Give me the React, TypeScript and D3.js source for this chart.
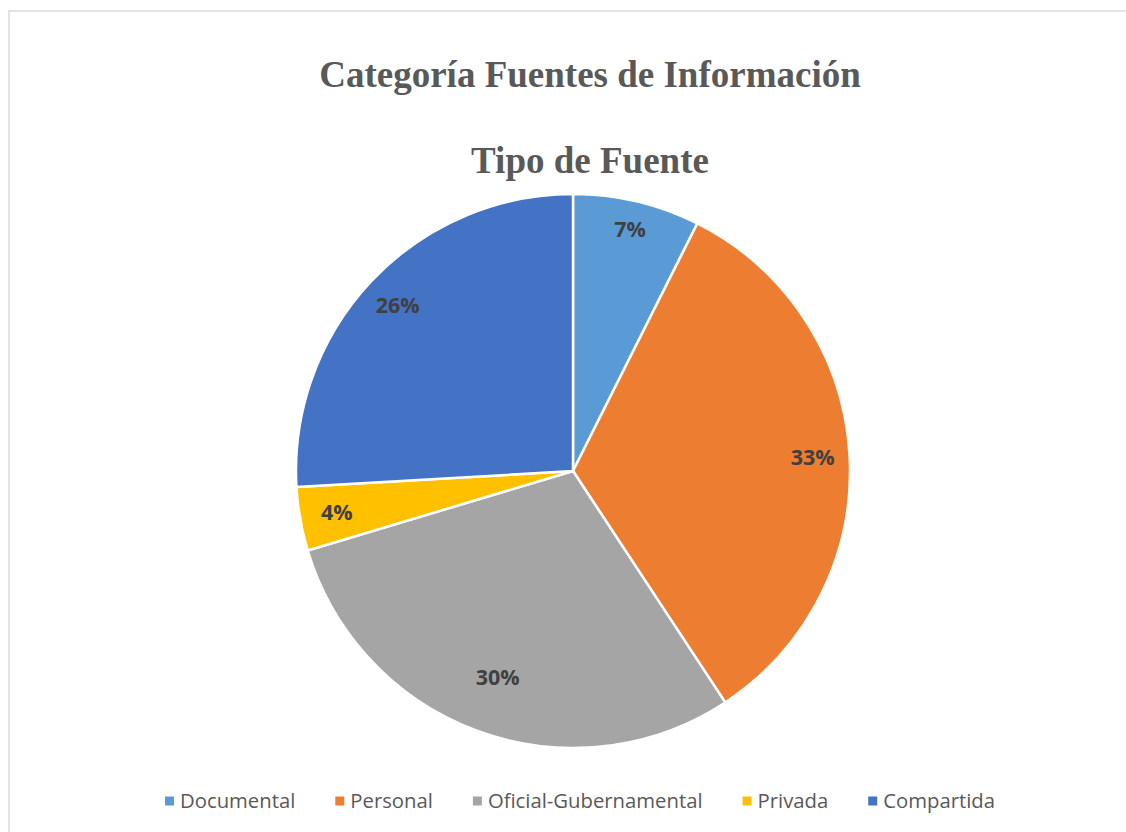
import React from "react";
import * as d3 from "d3";

const categories = ["Documental", "Personal", "Oficial-Gubernamental", "Privada", "Compartida"];
const counts = [2, 9, 8, 1, 7];
const colors = ["#5B9BD5", "#ED7D31", "#A5A5A5", "#FFC000", "#4472C4"];
const titleLines = ["Categoría Fuentes de Información", "Tipo de Fuente"];
// label distance from centre, as a share of the radius (best-fit placement)
const labelRadius = [0.895, 0.867, 0.795, 0.866, 0.87];

const W = 1126;
const H = 832;

function measure(text: string, font: string): number {
  if (typeof document === "undefined") return text.length * 9;
  const c = document.createElement("canvas");
  const ctx = c.getContext("2d");
  if (!ctx) return text.length * 9;
  ctx.font = font;
  return ctx.measureText(text).width;
}

export default function App() {
  const cx = 573;
  const cy = 471;
  const R = 277;
  const total = d3.sum(counts);
  const pie = d3.pie<number>().sort(null).value((d) => d)(counts);
  const arc = d3.arc<d3.PieArcDatum<number>>().innerRadius(0).outerRadius(R);
  const pct = d3.format(".0%");

  const legendSize = 20.3;
  const legendFont = `${legendSize}px 'Open Sans'`;
  const sq = 9;
  const sqGap = 6;
  const itemGap = 40;
  const widths = categories.map((c) => measure(c, legendFont));
  const itemW = widths.map((w) => sq + sqGap + w);
  const totalW = d3.sum(itemW) + itemGap * (categories.length - 1);
  let x0 = 580 - totalW / 2;
  const legendX: number[] = [];
  itemW.forEach((w) => {
    legendX.push(x0);
    x0 += w + itemGap;
  });
  const legendY = 801;

  return (
    <svg width={W} height={H} style={{ position: "absolute", left: 0, top: 0 }}>
      <rect x={0} y={0} width={W} height={H} fill="#ffffff" />
      <rect x={9} y={11} width={W + 20} height={H + 20} fill="#ffffff" stroke="#D9D9D9" strokeWidth={1.5} />
      {titleLines.map((t, i) => (
        <text
          key={t}
          x={590}
          y={87 + i * 86}
          textAnchor="middle"
          fontFamily="'Liberation Serif', 'Times New Roman', serif"
          fontWeight="bold"
          fontSize={37}
          fill="#595959"
        >
          {t}
        </text>
      ))}
      <g transform={`translate(${cx},${cy})`}>
        {pie.map((p, i) => (
          <path key={i} d={arc(p) || ""} fill={colors[i]} stroke="#ffffff" strokeWidth={2.5} strokeLinejoin="round" />
        ))}
        {pie.map((p, i) => {
          const r = R * labelRadius[i];
          const [lx, ly] = d3.arc<d3.PieArcDatum<number>>().innerRadius(r).outerRadius(r).centroid(p);
          return (
            <text
              key={"l" + i}
              x={lx}
              y={ly}
              dy="0.35em"
              textAnchor="middle"
              fontFamily="'Open Sans', sans-serif"
              fontWeight="bold"
              fontSize={21.5}
              fill="#404040"
            >
              {pct(p.data / total)}
            </text>
          );
        })}
      </g>
      {categories.map((c, i) => (
        <g key={c} transform={`translate(${legendX[i]},${legendY})`}>
          <rect x={0} y={-sq / 2} width={sq} height={sq} fill={colors[i]} />
          <text
            x={sq + sqGap}
            y={0}
            dy="0.35em"
            fontFamily="'Open Sans', sans-serif"
            fontSize={legendSize}
            fill="#595959"
          >
            {c}
          </text>
        </g>
      ))}
    </svg>
  );
}
